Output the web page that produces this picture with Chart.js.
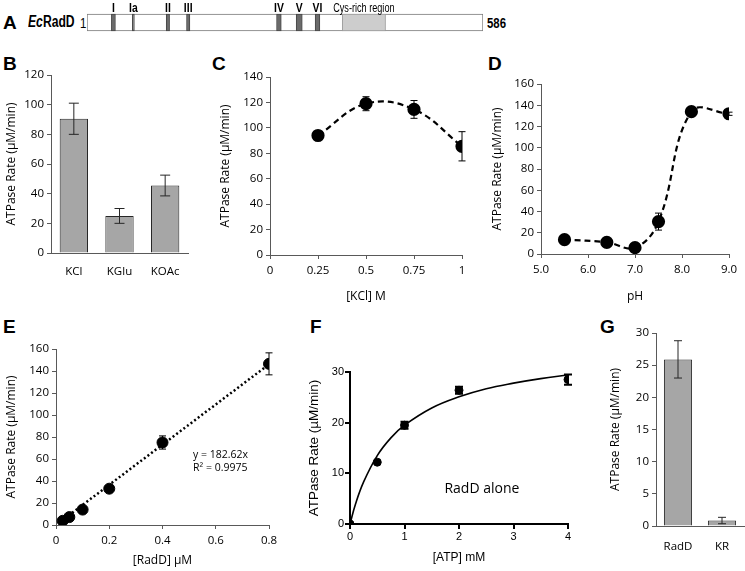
<!DOCTYPE html>
<html lang="en">
<head>
<meta charset="utf-8">
<title>EcRadD ATPase activity</title>
<script src="https://cdn.jsdelivr.net/npm/chart.js@4.4.1/dist/chart.umd.min.js"></script>
<style>
  body { margin: 0; width: 745px; height: 571px; background: #fff; position: relative; overflow: hidden; }
  .panel { position: absolute; }
  .letter { position: absolute; font: bold 19px 'Liberation Sans', Arial, sans-serif; line-height: 19px; color: #000; }
  .narrow { position: absolute; font: 15px 'Liberation Sans', Arial, sans-serif; line-height: 16px; color: #000;
            transform: scaleX(0.76); transform-origin: left center; white-space: nowrap; }
</style>
</head>
<body>

<div class="letter" style="left:3px;top:13px">A</div>
<div class="narrow" style="left:28px;top:14px;font-weight:bold;font-size:16px"><i>Ec</i>RadD</div>
<div class="narrow" style="left:80px;top:15px">1</div>
<div class="narrow" style="left:487px;top:15px;font-weight:bold">586</div>
<div class="letter" style="left:3px;top:54px">B</div>
<div class="letter" style="left:212px;top:54px">C</div>
<div class="letter" style="left:488px;top:54px">D</div>
<div class="letter" style="left:3px;top:317px">E</div>
<div class="letter" style="left:310px;top:317px">F</div>
<div class="letter" style="left:600px;top:317px">G</div>

<div class="panel" style="left:87px;top:0;width:396px;height:45px"><canvas id="chartA"></canvas></div>
<div class="panel" style="left:4px;top:65px;width:188px;height:222px"><canvas id="chartB"></canvas></div>
<div class="panel" style="left:218px;top:67px;width:254px;height:237px"><canvas id="chartC"></canvas></div>
<div class="panel" style="left:490px;top:74px;width:253px;height:230px"><canvas id="chartD"></canvas></div>
<div class="panel" style="left:4px;top:339px;width:279px;height:229px"><canvas id="chartE"></canvas></div>
<div class="panel" style="left:306px;top:362px;width:272px;height:203px"><canvas id="chartF"></canvas></div>
<div class="panel" style="left:608px;top:323px;width:137px;height:240px"><canvas id="chartG"></canvas></div>

<script>
// Panel A - domain map of EcRadD (residue numbers)
const proteinLength = 586;
const motifNames = ['I', 'Ia', 'II', 'III', 'IV', 'V', 'VI'];
const motifStart = [37, 68, 118, 148, 281, 310, 338];
const motifEnd = [43, 71, 123, 153, 288, 319, 345];
const cysRegion = [378, 442];

// Panel B - salt type
const saltLabels = ['KCl', 'KGlu', 'KOAc'];
const saltRate = [90.5, 25, 45.5];
const saltErr = [10.5, 5, 7];

// Panel C - KCl concentration
const kclConc = [0.25, 0.5, 0.75, 1];
const kclRate = [94, 119, 114.5, 85.5];
const kclErr = [3.5, 5.5, 7, 11.5];

// Panel D - pH
const phValues = [5.5, 6.4, 7.0, 7.5, 8.2, 9.0];
const phRate = [13.5, 11, 6, 30.5, 134, 132];
const phErr = [1, 1, 1, 8, 2, 1.5];

// Panel E - RadD concentration
const radConc = [0.025, 0.05, 0.1, 0.2, 0.4, 0.8];
const radRate = [3.8, 7.2, 14, 33, 75, 146.5];
const radErr = [0.5, 0.5, 1, 1, 6, 10];
const trendX = [0.02, 0.8];
const trendY = [3.65, 146.1];

// Panel F - ATP concentration, points and fitted curve
const atpConc = [0, 0.5, 1, 2, 4];
const atpRate = [0, 12.2, 19.5, 26.4, 28.5];
const atpErr = [0, 0, 0.7, 0.7, 1.0];
const fitX = [0, 0.1, 0.25, 0.5, 0.75, 1, 1.5, 2, 2.5, 3, 3.5, 4];
const fitY = [0, 3.9, 8.3, 13.5, 17.0, 19.5, 22.9, 25.1, 26.7, 27.8, 28.7, 29.4];

// Panel G - wild type vs KR mutant
const mutLabels = ['RadD', 'KR'];
const mutRate = [25.9, 0.85];
const mutErr = [2.9, 0.5];

const AXIS_COLOR = '#595959';
const EXCEL_FONT = "'Open Sans', 'DejaVu Sans', sans-serif";
const PRISM_FONT = "'Liberation Sans', Arial, sans-serif";

Chart.defaults.font.family = EXCEL_FONT;
Chart.defaults.font.size = 11.5;
Chart.defaults.color = '#000';
Chart.defaults.animation = false;
Chart.defaults.maintainAspectRatio = false;
Chart.defaults.devicePixelRatio = 1;
Chart.defaults.plugins.legend.display = false;
Chart.defaults.plugins.tooltip.enabled = false;

// Error bars: datasets carry an "errors" array, drawn around the parsed value
const errorBarPlugin = {
    id: 'errorBars',
    afterDatasetsDraw(chart, args, opts) {
        const ctx = chart.ctx;
        chart.data.datasets.forEach(function(ds, di) {
            if (!ds.errors) return;
            const meta = chart.getDatasetMeta(di);
            const yScale = chart.scales[meta.yAxisID];
            ctx.save();
            ctx.strokeStyle = opts.color || '#000';
            ctx.lineWidth = opts.width || 1;
            meta.data.forEach(function(el, i) {
                const e = ds.errors[i];
                if (!e) return;
                const val = meta.controller.getParsed(i).y;
                const top = yScale.getPixelForValue(val + e);
                const bot = yScale.getPixelForValue(val - e);
                const cap = opts.cap || 4;
                ctx.beginPath();
                ctx.moveTo(el.x, top);
                ctx.lineTo(el.x, bot);
                ctx.moveTo(el.x - cap, top);
                ctx.lineTo(el.x + cap, top);
                ctx.moveTo(el.x - cap, bot);
                ctx.lineTo(el.x + cap, bot);
                ctx.stroke();
            });
            ctx.restore();
        });
    }
};

// Free text placed at data coordinates
const notesPlugin = {
    id: 'notes',
    afterDraw(chart, args, opts) {
        if (!opts.items) return;
        const ctx = chart.ctx;
        ctx.save();
        opts.items.forEach(function(n) {
            ctx.font = n.font;
            ctx.fillStyle = '#000';
            ctx.textAlign = n.align || 'left';
            ctx.textBaseline = 'middle';
            ctx.fillText(n.text, chart.scales.x.getPixelForValue(n.x), chart.scales.y.getPixelForValue(n.y));
        });
        ctx.restore();
    }
};

Chart.register(errorBarPlugin, notesPlugin);

// Fixed axis sizes so the plot areas land where the reference has them
function fixWidth(w) {
    return function(scale) {
        scale.width = w;
        scale.paddingTop = 0;
        scale.paddingBottom = 0;
    };
}

function fixHeight(h) {
    return function(scale) {
        scale.height = h;
        scale.paddingLeft = 0;
        scale.paddingRight = 0;
    };
}

function excelY(max, step, width, title) {
    return {
        min: 0,
        max: max,
        ticks: { stepSize: step, padding: 3 },
        grid: { drawOnChartArea: false, tickLength: 4, color: AXIS_COLOR },
        border: { color: AXIS_COLOR },
        title: { display: true, text: title, font: { size: 12 }, padding: 0 },
        afterFit: fixWidth(width)
    };
}

function excelX(min, max, step, height, title, fmt) {
    return {
        type: 'linear',
        min: min,
        max: max,
        ticks: { stepSize: step, padding: 5, callback: fmt },
        grid: { drawOnChartArea: false, tickLength: 4, color: AXIS_COLOR },
        border: { color: AXIS_COLOR },
        title: { display: true, text: title, font: { size: 12 }, padding: 0 },
        afterFit: fixHeight(height)
    };
}

function excelCategoryX(height, pad) {
    return {
        ticks: { padding: pad },
        grid: { display: false, drawTicks: false, tickLength: 0 },
        border: { color: AXIS_COLOR },
        afterFit: fixHeight(height)
    };
}

function points(xs, ys) {
    return xs.map(function(x, i) { return { x: x, y: ys[i] }; });
}

const Y_TITLE = 'ATPase Rate (µM/min)';

function initializeCharts() {
    drawDomainMap();
    drawSaltChart();
    drawKclChart();
    drawPhChart();
    drawRadDChart();
    drawAtpChart();
    drawMutantChart();
}

function drawDomainMap() {
    // Motif names above the bar, in a condensed face
    const labelPlugin = {
        id: 'motifLabels',
        afterDatasetsDraw(chart) {
            const ctx = chart.ctx;
            chart.data.datasets.forEach(function(ds, i) {
                if (!ds.tag) return;
                const bar = chart.getDatasetMeta(i).data[0];
                const top = bar.y - bar.height / 2;
                const cx = (bar.x + bar.base) / 2;
                ctx.save();
                ctx.translate(cx, top - 2.5);
                ctx.scale(ds.tagBold ? 0.8 : 0.76, 1);
                ctx.fillStyle = '#000';
                ctx.textAlign = 'center';
                ctx.textBaseline = 'alphabetic';
                ctx.font = ds.tagBold ? 'bold 13px ' + PRISM_FONT : '12px ' + PRISM_FONT;
                ctx.fillText(ds.tag, 0, 0);
                ctx.restore();
            });
        }
    };

    const motifSets = motifNames.map(function(name, i) {
        return {
            data: [[motifStart[i], motifEnd[i]]],
            backgroundColor: '#6b6b6b',
            borderColor: '#474747',
            borderWidth: 1,
            order: 1,
            tag: name,
            tagBold: true
        };
    });

    new Chart(document.getElementById('chartA'), {
        type: 'bar',
        data: {
            labels: ['EcRadD'],
            datasets: motifSets.concat([
                { data: [cysRegion], backgroundColor: '#cdcdcd', borderColor: '#9a9a9a', borderWidth: 1, order: 1, tag: 'Cys-rich region' },
                { data: [[1, proteinLength]], backgroundColor: '#fff', borderColor: '#7a7a7a', borderWidth: 1, order: 2 }
            ])
        },
        options: {
            indexAxis: 'y',
            layout: { padding: 0 },
            datasets: { bar: { grouped: false, barThickness: 17, borderSkipped: false } },
            scales: {
                x: { display: false, min: 1, max: proteinLength },
                y: { display: false }
            }
        },
        plugins: [labelPlugin]
    });
}

function drawSaltChart() {
    new Chart(document.getElementById('chartB'), {
        type: 'bar',
        data: {
            labels: saltLabels,
            datasets: [{
                data: saltRate,
                errors: saltErr,
                backgroundColor: '#a6a6a6',
                borderColor: '#262626',
                borderWidth: 1,
                borderSkipped: 'bottom',
                barPercentage: 0.62,
                categoryPercentage: 1
            }]
        },
        options: {
            layout: { padding: { top: 10, right: 4 } },
            plugins: { errorBars: { cap: 5, color: '#262626' } },
            scales: {
                x: excelCategoryX(34, 12),
                y: excelY(120, 20, 47, Y_TITLE)
            }
        }
    });
}

function drawKclChart() {
    new Chart(document.getElementById('chartC'), {
        type: 'scatter',
        data: {
            datasets: [{
                data: points(kclConc, kclRate),
                errors: kclErr,
                showLine: true,
                tension: 0.4,
                borderColor: '#000',
                borderWidth: 2.2,
                borderDash: [6, 4],
                pointRadius: 5.5,
                pointBackgroundColor: '#000'
            }]
        },
        options: {
            layout: { padding: { top: 10, right: 10 } },
            plugins: { errorBars: { cap: 3.5 } },
            scales: {
                x: excelX(0, 1, 0.25, 49, '[KCl] M', function(v) { return String(v); }),
                y: excelY(140, 20, 52, Y_TITLE)
            }
        }
    });
}

function drawPhChart() {
    new Chart(document.getElementById('chartD'), {
        type: 'scatter',
        data: {
            datasets: [{
                data: points(phValues, phRate),
                errors: phErr,
                showLine: true,
                tension: 0.4,
                borderColor: '#000',
                borderWidth: 2.2,
                borderDash: [6, 4],
                pointRadius: 5.5,
                pointBackgroundColor: '#000'
            }]
        },
        options: {
            layout: { padding: { top: 10, right: 14 } },
            plugins: { errorBars: { cap: 3.5 } },
            scales: {
                x: excelX(5, 9, 1, 50, 'pH', function(v) { return v.toFixed(1); }),
                y: excelY(160, 20, 51, Y_TITLE)
            }
        }
    });
}

function drawRadDChart() {
    new Chart(document.getElementById('chartE'), {
        type: 'scatter',
        data: {
            datasets: [
                {
                    data: points(radConc, radRate),
                    errors: radErr,
                    pointRadius: 5.5,
                    pointBackgroundColor: '#000',
                    borderColor: '#000'
                },
                {
                    data: points(trendX, trendY),
                    showLine: true,
                    pointRadius: 0,
                    borderColor: '#000',
                    borderWidth: 2.5,
                    borderDash: [2, 2.5]
                }
            ]
        },
        options: {
            layout: { padding: { top: 10, right: 14 } },
            plugins: {
                errorBars: { cap: 3.5 },
                notes: {
                    items: [
                        { text: 'y = 182.62x', x: 0.515, y: 63.5, font: '10.5px ' + EXCEL_FONT },
                        { text: 'R² = 0.9975', x: 0.515, y: 51.5, font: '10.5px ' + EXCEL_FONT }
                    ]
                }
            },
            scales: {
                x: excelX(0, 0.8, 0.2, 43, '[RadD] µM', function(v) { return String(v); }),
                y: excelY(160, 20, 52, Y_TITLE)
            }
        }
    });
}

function drawAtpChart() {
    const prismAxis = {
        grid: { drawOnChartArea: false, tickLength: 5, color: '#000', lineWidth: 2 },
        border: { color: '#000', width: 2 }
    };

    new Chart(document.getElementById('chartF'), {
        type: 'scatter',
        data: {
            datasets: [
                {
                    data: points(atpConc, atpRate),
                    errors: atpErr,
                    pointRadius: 4,
                    pointBackgroundColor: '#000',
                    borderColor: '#000'
                },
                {
                    data: points(fitX, fitY),
                    showLine: true,
                    tension: 0.4,
                    pointRadius: 0,
                    borderColor: '#000',
                    borderWidth: 1.6
                }
            ]
        },
        options: {
            layout: { padding: { top: 10, right: 10 } },
            plugins: {
                errorBars: { cap: 4, width: 2 },
                notes: {
                    items: [{ text: 'RadD alone', x: 2.42, y: 6.9, font: '14px ' + EXCEL_FONT, align: 'center' }]
                }
            },
            scales: {
                x: Object.assign({}, prismAxis, {
                    min: 0, max: 4,
                    ticks: { stepSize: 1, padding: 1, font: { family: PRISM_FONT, size: 11 } },
                    title: { display: true, text: '[ATP] mM', font: { family: PRISM_FONT, size: 12 }, padding: 0 },
                    afterFit: fixHeight(41)
                }),
                y: Object.assign({}, prismAxis, {
                    min: 0, max: 30,
                    ticks: { stepSize: 10, padding: 1, font: { family: PRISM_FONT, size: 11 } },
                    title: { display: true, text: Y_TITLE, font: { family: PRISM_FONT, size: 13.5 }, padding: 0 },
                    afterFit: fixWidth(44)
                })
            }
        }
    });
}

function drawMutantChart() {
    new Chart(document.getElementById('chartG'), {
        type: 'bar',
        data: {
            labels: mutLabels,
            datasets: [{
                data: mutRate,
                errors: mutErr,
                backgroundColor: '#a6a6a6',
                borderColor: '#262626',
                borderWidth: 1,
                borderSkipped: 'bottom',
                barPercentage: 0.64,
                categoryPercentage: 1
            }]
        },
        options: {
            layout: { padding: { top: 10, right: 1 } },
            plugins: { errorBars: { cap: 4, color: '#262626' } },
            scales: {
                x: excelCategoryX(37, 14),
                y: excelY(30, 5, 48, Y_TITLE)
            }
        }
    });
}

document.addEventListener('DOMContentLoaded', initializeCharts);
</script>
</body>
</html>
